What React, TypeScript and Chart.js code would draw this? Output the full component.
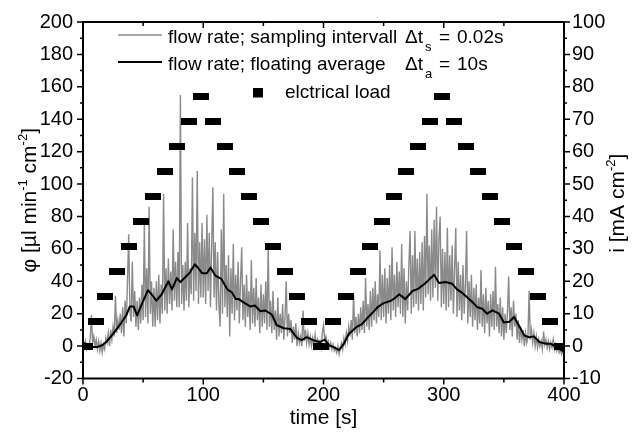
import React, { useEffect, useRef } from 'react';
import { Chart, registerables } from 'chart.js';

Chart.register(...registerables);

const FONT_FAMILY = '"Liberation Sans", Arial, Helvetica, sans-serif';

// ---- axis ticks ----
const xMajorTicks = [0, 100, 200, 300, 400];
const xMinorTicks = [50, 150, 250, 350];
const yMajorTicks = [-20, 0, 20, 40, 60, 80, 100, 120, 140, 160, 180, 200];
const yMinorTicks = [-10, 10, 30, 50, 70, 90, 110, 130, 150, 170, 190];
const y2MajorTicks = [-10, 0, 10, 20, 30, 40, 50, 60, 70, 80, 90, 100];
const y2MinorTicks = [-5, 5, 15, 25, 35, 45, 55, 65, 75, 85, 95];

const RAW_STEP_S = 1;
const flowRaw0to99 = [
  2, -1, 3, -2, 1, -1, 5, 19, 2, 6,
  0, 4, -2, 3, -3, 2, -4, 1, -2, 5,
  2, 8, 0, 10, 4, 12, 6, 31, 8, 16,
  10, 20, 8, 24, 6, 28, 14, 40, 69, 22,
  15, 52, 18, 34, 12, 28, 10, 30, 14, 38,
  16, 75, 18, 48, 14, 86, 20, 40, 12, 36,
  12, 40, 16, 44, 14, 38, 20, 94, 22, 48,
  20, 54, 26, 46, 22, 72, 28, 52, 24, 58,
  24, 155, 26, 50, 22, 52, 28, 76, 24, 48,
  32, 104, 28, 70, 34, 108, 26, 64, 30, 76,
];
const flowRaw100to199 = [
  30, 66, 26, 81, 34, 70, 24, 62, 98, 30,
  64, 22, 58, 26, 12, 72, 20, 94, 24, 50,
  18, 56, 6, 48, 20, 63, 16, 44, 22, 52,
  14, 40, 61, 16, 38, 12, 44, 18, 34, 10,
  53, 14, 36, 12, 42, 16, 30, 8, 38, 12,
  32, 14, 40, 10, 62, 12, 28, 8, 34, 10,
  22, 4, 30, 6, 20, 8, 26, 4, 18, 40,
  6, 20, 8, 16, 2, 12, 4, 14, 0, 8,
  2, 6, 0, 22, 3, 10, 2, 8, 1, 6,
  0, 5, 1, 7, 0, 4, 1, 3, -1, 8,
];
const flowRaw200to299 = [
  13, 4, 6, 1, 3, -1, 2, -2, 1, -3,
  -1, -4, 0, -5, -1, 2, -2, 5, 1, 8,
  3, 12, 6, 16, 4, 32, 8, 18, 6, 20,
  8, 24, 10, 28, 8, 42, 12, 26, 10, 34,
  12, 36, 16, 40, 14, 32, 18, 59, 16, 44,
  18, 48, 14, 42, 20, 50, 16, 61, 22, 44,
  18, 52, 24, 46, 20, 63, 18, 48, 14, 40,
  22, 50, 71, 20, 56, 24, 71, 26, 54, 22,
  58, 26, 64, 22, 68, 30, 94, 32, 62, 28,
  72, 30, 78, 36, 86, 28, 66, 80, 24, 60,
];
const flowRaw300to400 = [
  26, 58, 22, 73, 24, 56, 28, 62, 20, 48,
  73, 18, 52, 22, 44, 16, 50, 20, 38, 71,
  14, 40, 18, 44, 12, 36, 16, 38, 10, 30,
  14, 47, 12, 32, 8, 36, 14, 28, 6, 32,
  12, 34, 10, 49, 12, 26, 8, 30, 6, 24,
  4, 20, 8, 22, 43, 10, 24, 6, 28, 12,
  20, 4, 16, 2, 12, 4, 10, 0, 8, 2,
  6, 34, 4, 10, 2, 8, 0, 6, -1, 4,
  0, 3, -2, 9, 1, 4, -1, 3, -2, 2,
  -1, 4, -2, 1, -3, 0, -4, -2, -5, -3, -4,
];
const flowRaw = [...flowRaw0to99, ...flowRaw100to199, ...flowRaw200to299, ...flowRaw300to400];

// ---- flow rate, floating average ----
const avgTime = [
  0, 4, 8, 12, 16, 20, 25, 31, 36, 39,
  42, 45, 49, 54, 57, 61, 65.5, 71, 74, 78,
  81, 85, 89, 93, 96, 99, 103, 106, 110, 115,
  120, 124, 127, 129.5, 133.5, 139, 143, 147.5, 151.5, 157,
  161, 167, 172.5, 178, 182, 186, 192, 197, 201, 204.5,
  208, 213, 217, 221, 227, 232, 236, 240, 245, 250,
  256, 260, 263, 268, 274, 279, 285, 292, 296, 301.5,
  307, 311, 315, 318, 324, 328, 332, 336, 340.5, 346,
  350, 354.5, 358.5, 363, 367, 371, 375, 379.5, 385, 389,
  393, 397, 400,
];
const avgValue = [
  2, 1, -0.5, -0.5, 0.5, 3, 7.5, 13.5, 19, 24.5,
  24.5, 19, 26, 34.5, 32, 28, 32, 40, 35, 42,
  39.5, 42.5, 45.5, 50.5, 48, 45, 45, 48.5, 43.5, 41.5,
  35, 33, 29, 29, 27, 24.5, 25, 21.5, 22, 19.5,
  13, 11, 10.5, 5, 3.7, 5.5, 3.5, 2.5, 4, 0.5,
  -0.5, -2.5, 1.5, 7.5, 11.5, 13.5, 17, 20, 24, 26.5,
  28, 30, 32, 29, 34, 35.5, 39, 44, 39, 39.5,
  38.5, 35, 33, 31, 27, 24, 23, 20, 22, 20,
  14.5, 15, 18, 12, 6.5, 5.5, 6, 2.5, 1.5, 1.5,
  -0.5, -2, -3.5,
];

// ---- electrical load (mA cm^-2, right axis) ----
const loadTime = [
  1.7, 10.8, 18.3, 28.3, 38.3, 48.3, 58.3, 68.3, 78.3, 88.3,
  98.3, 108.3, 118.3, 128.3, 138.3, 148.3, 158.3, 168.3, 178.3, 188.3,
  198.3, 208.3, 218.3, 228.3, 238.3, 248.3, 258.3, 268.3, 278.3, 288.3,
  298.3, 308.3, 318.3, 328.3, 338.3, 348.3, 358.3, 368.3, 378.3, 388.3,
  398.3,
];
const loadValue = [
  0, 7.7, 15.4, 23.1, 30.8, 38.5, 46.2, 53.9, 61.6, 69.3,
  77, 69.3, 61.6, 53.9, 46.2, 38.5, 30.8, 23.1, 15.4, 7.7,
  0, 7.7, 15.4, 23.1, 30.8, 38.5, 46.2, 53.9, 61.6, 69.3,
  77, 69.3, 61.6, 53.9, 46.2, 38.5, 30.8, 23.1, 15.4, 7.7,
  0,
];

const GRAY = '#8a8a8a';

type Run = { text: string; size: number; dy?: number };

function drawRuns(ctx: CanvasRenderingContext2D, runs: Run[], x: number, y: number, center: boolean) {
  const widths = runs.map((r) => {
    ctx.font = `${r.size}px ${FONT_FAMILY}`;
    return ctx.measureText(r.text).width;
  });
  const total = widths.reduce((a, b) => a + b, 0);
  let cx = center ? x - total / 2 : x;
  runs.forEach((r, i) => {
    ctx.font = `${r.size}px ${FONT_FAMILY}`;
    ctx.fillText(r.text, cx, y + (r.dy || 0));
    cx += widths[i];
  });
}

const overlayPlugin = {
  id: 'overlay',
  afterDraw(chart: any) {
    const { ctx, chartArea: a, scales } = chart;
    const xs = scales.x;
    const ys = scales.y;
    const y2s = scales.y2;
    ctx.save();
    ctx.strokeStyle = '#000';
    ctx.fillStyle = '#000';

    // frame
    ctx.lineWidth = 2;
    ctx.strokeRect(a.left, a.top, a.right - a.left, a.bottom - a.top);

    // ticks
    ctx.lineWidth = 1.5;
    ctx.beginPath();
    const tickL = (v: number, len: number) => {
      const p = ys.getPixelForValue(v);
      ctx.moveTo(a.left, p);
      ctx.lineTo(a.left - len, p);
    };
    yMajorTicks.forEach((v) => tickL(v, 6));
    yMinorTicks.forEach((v) => tickL(v, 3));
    const tickR = (v: number, len: number) => {
      const p = y2s.getPixelForValue(v);
      ctx.moveTo(a.right, p);
      ctx.lineTo(a.right + len, p);
    };
    y2MajorTicks.forEach((v) => tickR(v, 6));
    y2MinorTicks.forEach((v) => tickR(v, 3));
    const tickB = (v: number, len: number) => {
      const p = xs.getPixelForValue(v);
      ctx.moveTo(p, a.bottom);
      ctx.lineTo(p, a.bottom + len);
      ctx.moveTo(p, a.top);
      ctx.lineTo(p, a.top + len);
    };
    xMajorTicks.forEach((v) => tickB(v, 6));
    xMinorTicks.forEach((v) => tickB(v, 4));
    ctx.stroke();

    // axis titles
    ctx.textBaseline = 'alphabetic';
    ctx.textAlign = 'left';
    drawRuns(ctx, [{ text: 'time [s]', size: 21 }], (a.left + a.right) / 2, 424, true);

    ctx.save();
    ctx.translate(36, (a.top + a.bottom) / 2);
    ctx.rotate(-Math.PI / 2);
    drawRuns(
      ctx,
      [
        { text: '\u03C6 [\u00B5l min', size: 21 },
        { text: '-1', size: 13, dy: -9 },
        { text: ' cm', size: 21 },
        { text: '-2', size: 13, dy: -9 },
        { text: ']', size: 21 },
      ],
      0,
      0,
      true,
    );
    ctx.restore();

    ctx.save();
    ctx.translate(624, (a.top + a.bottom) / 2 + 3);
    ctx.rotate(-Math.PI / 2);
    drawRuns(
      ctx,
      [
        { text: 'i [mA cm', size: 21 },
        { text: '-2', size: 13, dy: -9 },
        { text: ']', size: 21 },
      ],
      0,
      0,
      true,
    );
    ctx.restore();

    // legend
    ctx.lineWidth = 1.3;
    ctx.strokeStyle = GRAY;
    ctx.beginPath();
    ctx.moveTo(118, 35);
    ctx.lineTo(162, 35);
    ctx.stroke();
    ctx.lineWidth = 2;
    ctx.strokeStyle = '#000';
    ctx.beginPath();
    ctx.moveTo(118, 62);
    ctx.lineTo(162, 62);
    ctx.stroke();
    ctx.fillRect(253, 88, 10, 9.5);

    drawRuns(ctx, [{ text: 'flow rate; sampling intervall', size: 19 }], 168, 43, false);
    drawRuns(ctx, [{ text: '\u0394t', size: 19 }], 405, 43, false);
    drawRuns(ctx, [{ text: 's', size: 13 }], 425, 51, false);
    drawRuns(ctx, [{ text: '=', size: 19 }], 439, 43, false);
    drawRuns(ctx, [{ text: '0.02s', size: 19 }], 457, 43, false);

    drawRuns(ctx, [{ text: 'flow rate; floating average', size: 19 }], 168, 70, false);
    drawRuns(ctx, [{ text: '\u0394t', size: 19 }], 405, 70, false);
    drawRuns(ctx, [{ text: 'a', size: 13 }], 425, 78, false);
    drawRuns(ctx, [{ text: '=', size: 19 }], 439, 70, false);
    drawRuns(ctx, [{ text: '10s', size: 19 }], 457, 70, false);

    drawRuns(ctx, [{ text: 'elctrical load', size: 19 }], 285, 98, false);

    ctx.restore();
  },
};

export default function App() {
  const ref = useRef<HTMLCanvasElement>(null);

  useEffect(() => {
    const canvas = ref.current;
    if (!canvas) return;

    const bar = document.createElement('canvas');
    bar.width = 16;
    bar.height = 7;
    const bctx = bar.getContext('2d');
    if (bctx) {
      bctx.fillStyle = '#000';
      bctx.fillRect(0, 0, 16, 7);
    }

    const rawPoints = flowRaw.map((v, i) => ({ x: i * RAW_STEP_S, y: v }));
    const avgPoints = avgTime.map((t, i) => ({ x: t, y: avgValue[i] }));
    const loadPoints = loadTime.map((t, i) => ({ x: t, y: loadValue[i] }));

    const tickFont = { family: FONT_FAMILY, size: 20 };
    const noGrid = { display: false, drawTicks: false, tickLength: 0 };

    const chart = new Chart(canvas, {
      type: 'line',
      data: {
        datasets: [
          {
            label: 'flow rate; sampling intervall',
            data: rawPoints,
            yAxisID: 'y',
            borderColor: GRAY,
            borderWidth: 1.4,
            pointRadius: 0,
            tension: 0,
            order: 3,
            clip: 0,
          },
          {
            label: 'flow rate; floating average',
            data: avgPoints,
            yAxisID: 'y',
            borderColor: '#000',
            borderWidth: 2,
            pointRadius: 0,
            tension: 0,
            borderJoinStyle: 'round',
            order: 2,
            clip: 0,
          },
          {
            label: 'elctrical load',
            data: loadPoints,
            yAxisID: 'y2',
            showLine: false,
            pointStyle: bar as any,
            pointRadius: 8,
            pointBorderWidth: 0,
            order: 1,
            clip: 0,
          },
        ],
      },
      options: {
        animation: false,
        responsive: false,
        maintainAspectRatio: false,
        events: [],
        layout: { padding: { top: 20, left: 0, right: 0, bottom: 0 } },
        plugins: { legend: { display: false }, tooltip: { enabled: false } },
        scales: {
          x: {
            type: 'linear',
            min: 0,
            max: 400,
            afterBuildTicks: (s: any) => {
              s.ticks = xMajorTicks.map((v) => ({ value: v }));
            },
            afterFit: (s: any) => {
              s.height = 53.5;
            },
            ticks: { font: tickFont, color: '#000', padding: 5, maxRotation: 0, autoSkip: false },
            grid: noGrid,
            border: { display: false },
          },
          y: {
            type: 'linear',
            position: 'left',
            min: -20,
            max: 200,
            afterBuildTicks: (s: any) => {
              s.ticks = yMajorTicks.map((v) => ({ value: v }));
            },
            afterFit: (s: any) => {
              s.width = 83;
            },
            ticks: { font: tickFont, color: '#000', padding: 10, autoSkip: false },
            grid: noGrid,
            border: { display: false },
          },
          y2: {
            type: 'linear',
            position: 'right',
            min: -10,
            max: 100,
            afterBuildTicks: (s: any) => {
              s.ticks = y2MajorTicks.map((v) => ({ value: v }));
            },
            afterFit: (s: any) => {
              s.width = 74;
            },
            ticks: { font: tickFont, color: '#000', padding: 8, autoSkip: false },
            grid: noGrid,
            border: { display: false },
          },
        },
      },
      plugins: [overlayPlugin],
    } as any);

    return () => chart.destroy();
  }, []);

  return (
    <div style={{ position: 'fixed', left: 0, top: 0, width: 638, height: 432, background: '#fff' }}>
      <canvas ref={ref} width={638} height={432} style={{ display: 'block', width: 638, height: 432 }} />
    </div>
  );
}
